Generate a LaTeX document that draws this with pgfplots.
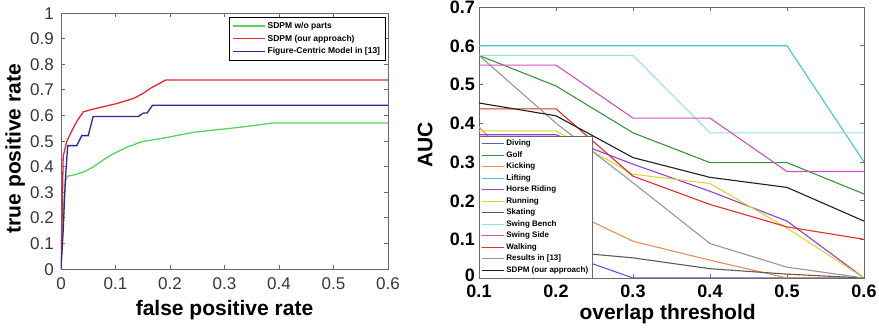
\documentclass[border=0pt]{standalone}
\usepackage{pgfplots}
\pgfplotsset{compat=1.18}
\usepackage{fontspec}
\setmainfont{Liberation Sans}
\definecolor{axisgray}{RGB}{105,105,105}
\definecolor{tickgray}{RGB}{55,55,55}
\definecolor{cGreenL}{RGB}{90,210,90}
\definecolor{cRedL}{RGB}{225,40,50}
\definecolor{cBlueL}{RGB}{40,40,150}
\definecolor{cDiving}{RGB}{85,95,205}
\definecolor{cGolf}{RGB}{50,150,60}
\definecolor{cKicking}{RGB}{240,140,80}
\definecolor{cLifting}{RGB}{60,200,210}
\definecolor{cHorse}{RGB}{150,60,210}
\definecolor{cRunning}{RGB}{215,215,50}
\definecolor{cSkating}{RGB}{90,90,90}
\definecolor{cBench}{RGB}{150,225,225}
\definecolor{cSide}{RGB}{210,80,190}
\definecolor{cWalking}{RGB}{225,45,45}
\definecolor{cResults}{RGB}{150,150,150}
\definecolor{cSDPM}{RGB}{30,30,30}
\pgfplotstableread{
x     diving golf  kicking lifting horse running skating bench side  walking results sdpm
0.1   0.14   0.575 0.39    0.6     0.37  0.38    0.08    0.575 0.55  0.437   0.575   0.452
0.2   0.07   0.496 0.19    0.6     0.37  0.38    0.07    0.575 0.55  0.437   0.40    0.419
0.3   0      0.375 0.095   0.6     0.294 0.268   0.052   0.575 0.413 0.263   0.246   0.311
0.4   0      0.298 0.046   0.6     0.224 0.244   0.024   0.375 0.413 0.19    0.089   0.26
0.5   0      0.298 0       0.6     0.147 0.129   0.01    0.375 0.275 0.132   0.028   0.234
0.6   0      0.217 0       0.3     0     0       0       0.375 0.275 0.1     0       0.147
}\auctable
\begin{document}
\begin{tikzpicture}
\useasboundingbox (0,0) rectangle (879pt,331pt);
% ---------------- left: ROC ----------------
\begin{axis}[
  at={(61pt,62pt)}, anchor=south west,
  scale only axis, width=327pt, height=256pt,
  xmin=0, xmax=0.6, ymin=0, ymax=1,
  xtick={0,0.1,0.2,0.3,0.4,0.5,0.6},
  ytick={0,0.1,0.2,0.3,0.4,0.5,0.6,0.7,0.8,0.9,1},
  xticklabels={0,0.1,0.2,0.3,0.4,0.5,0.6},
  yticklabels={0,0.1,0.2,0.3,0.4,0.5,0.6,0.7,0.8,0.9,1},
  tick align=inside, major tick length=4pt,
  axis line style={draw=axisgray, line width=0.8pt},
  every tick/.style={axisgray, line width=0.6pt},
  ticklabel style={font=\fontsize{17}{17}\selectfont, text=tickgray,
    text height=12.2pt, text depth=0pt},
  xticklabel style={inner sep=1pt, yshift=-7pt},
  yticklabel style={inner sep=1pt, xshift=-6pt},
  xlabel={false positive rate},
  ylabel={true positive rate},
  label style={font=\bfseries\fontsize{21}{21}\selectfont},
  xlabel style={at={(axis description cs:0.5,0)}, anchor=base, yshift=-47pt},
  ylabel style={at={(axis description cs:-0.14,0.47)}, anchor=center},
  legend style={at={(axis cs:0.595,0.985)}, anchor=north east,
    font=\bfseries\fontsize{8.5}{9}\selectfont, draw=black,
    row sep=1.2pt, inner sep=3pt},
  legend cell align=left,
  legend image code/.code={\draw[#1] (0pt,0pt) -- (32pt,0pt);},
  legend image post style={line width=1.3pt},
]
\addplot[cGreenL, line width=1.3pt] coordinates {
 (0,0) (0.002,0.1) (0.005,0.25) (0.008,0.34) (0.011,0.362) (0.025,0.368)
 (0.044,0.381) (0.06,0.4) (0.08,0.43) (0.099,0.453) (0.12,0.475) (0.148,0.497)
 (0.17,0.505) (0.19,0.512) (0.243,0.534) (0.317,0.551) (0.353,0.56) (0.387,0.57) (0.6,0.57)};
\addlegendentry{SDPM w/o parts}
\addplot[cRedL, line width=1.3pt] coordinates {
 (0,0) (0.002,0.2) (0.004,0.44) (0.0105,0.498) (0.02,0.54) (0.03,0.58) (0.041,0.614)
 (0.06,0.625) (0.1,0.645) (0.133,0.666) (0.15,0.685) (0.165,0.707) (0.192,0.738) (0.6,0.738)};
\addlegendentry{SDPM (our approach)}
\addplot[cBlueL, line width=1.3pt] coordinates {
 (0,0) (0.004,0.15) (0.008,0.35) (0.0123,0.482) (0.029,0.482) (0.038,0.521) (0.050,0.521)
 (0.059,0.596) (0.142,0.596) (0.151,0.609) (0.158,0.609) (0.168,0.64) (0.6,0.64)};
\addlegendentry{Figure-Centric Model in [13]}
\end{axis}
% ---------------- right: AUC ----------------
\begin{axis}[
  at={(479pt,53pt)}, anchor=south west,
  scale only axis, width=385pt, height=271pt,
  xmin=0.1, xmax=0.6, ymin=0, ymax=0.7,
  xtick={0.1,0.2,0.3,0.4,0.5,0.6},
  ytick={0,0.1,0.2,0.3,0.4,0.5,0.6,0.7},
  xticklabels={0.1,0.2,0.3,0.4,0.5,0.6},
  yticklabels={{\raisebox{3pt}{0}},0.1,0.2,0.3,0.4,0.5,0.6,0.7},
  tick align=inside, major tick length=4pt,
  axis line style={draw=axisgray, line width=0.8pt},
  every tick/.style={axisgray, line width=0.6pt},
  ticklabel style={font=\bfseries\fontsize{18}{18}\selectfont, text=black,
    text height=12.9pt, text depth=0pt},
  xticklabel style={inner sep=1pt, yshift=-5pt},
  yticklabel style={inner sep=1pt, xshift=-3pt},
  xlabel={overlap threshold},
  ylabel={AUC},
  label style={font=\bfseries\fontsize{21}{21}\selectfont},
  xlabel style={at={(axis description cs:0.49,0)}, anchor=base, yshift=-42pt},
  ylabel style={at={(axis description cs:-0.14,0.49)}, anchor=center},
  legend style={at={(axis cs:0.1,0.0)}, anchor=south west,
    font=\bfseries\fontsize{8}{8}\selectfont, draw=axisgray,
    row sep=0.2pt, inner sep=2pt},
  legend cell align=left,
  legend image code/.code={\draw[#1] (0pt,0pt) -- (22pt,0pt);},
  legend image post style={line width=1.2pt},
  every axis plot/.append style={line width=1.1pt},
]
\addplot[cDiving]  table[x=x,y=diving]  {\auctable}; \addlegendentry{Diving}
\addplot[cGolf]    table[x=x,y=golf]    {\auctable}; \addlegendentry{Golf}
\addplot[cKicking] table[x=x,y=kicking] {\auctable}; \addlegendentry{Kicking}
\addplot[cLifting] table[x=x,y=lifting] {\auctable}; \addlegendentry{Lifting}
\addplot[cHorse]   table[x=x,y=horse]   {\auctable}; \addlegendentry{Horse Riding}
\addplot[cRunning] table[x=x,y=running] {\auctable}; \addlegendentry{Running}
\addplot[cSkating] table[x=x,y=skating] {\auctable}; \addlegendentry{Skating}
\addplot[cBench]   table[x=x,y=bench]   {\auctable}; \addlegendentry{Swing Bench}
\addplot[cSide]    table[x=x,y=side]    {\auctable}; \addlegendentry{Swing Side}
\addplot[cWalking] table[x=x,y=walking] {\auctable}; \addlegendentry{Walking}
\addplot[cResults] table[x=x,y=results] {\auctable}; \addlegendentry{Results in [13]}
\addplot[cSDPM]    table[x=x,y=sdpm]    {\auctable}; \addlegendentry{SDPM (our approach)}
\end{axis}
\end{tikzpicture}
\end{document}
